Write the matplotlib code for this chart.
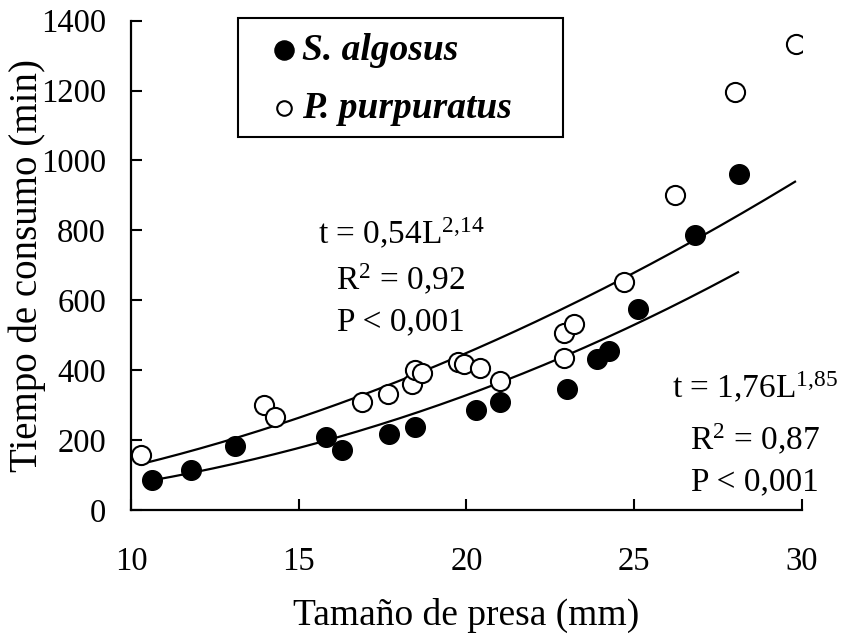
import numpy as np
import matplotlib
matplotlib.use("Agg")
import matplotlib.pyplot as plt
from matplotlib.patches import Rectangle

# S. algosus (filled)
alg_x = [10.62, 11.79, 13.10, 15.81, 16.30, 17.69, 18.48, 20.30, 21.00,
         23.00, 23.90, 24.25, 25.11, 26.82, 28.13]
alg_y = [87, 114, 183, 208, 173, 218, 237, 287, 309,
         347, 432, 455, 576, 787, 962]

# P. purpuratus (open)
pur_x = [10.30, 13.97, 14.29, 16.90, 17.67, 18.39, 18.46, 18.69, 19.74,
         19.94, 20.40, 21.01, 22.91, 22.91, 23.20, 24.70, 26.21, 28.02, 29.83]
pur_y = [156, 301, 267, 308, 332, 360, 400, 393, 424,
         417, 407, 368, 434, 507, 531, 652, 900, 1197, 1333]

# fitted power curves t = a * L^b  (a, b, xmin, xmax)
alg_fit = (0.54, 2.14, 10.6, 28.1)
pur_fit = (1.76, 1.85, 10.3, 29.8)

plt.rcParams['font.family'] = ['Liberation Serif', 'DejaVu Serif']
plt.rcParams['mathtext.fontset'] = 'custom'
plt.rcParams['mathtext.rm'] = 'Liberation Serif'
plt.rcParams['mathtext.it'] = 'Liberation Serif:italic'

fig = plt.figure(figsize=(8.41, 6.4), dpi=100)
ax = fig.add_axes([0.1558, 0.2031, 0.7975, 0.7646])

for a, b, x0, x1 in (alg_fit, pur_fit):
    xs = np.linspace(x0, x1, 200)
    ax.plot(xs, a * xs ** b, color='black', lw=1.6, zorder=2)

ax.scatter(alg_x, alg_y, s=200, c='black', edgecolors='black', zorder=3,
           label='S. algosus')
ax.scatter(pur_x, pur_y, s=190, facecolors='white', edgecolors='black',
           linewidths=1.5, zorder=4, label='P. purpuratus')

ax.set_xlim(10, 30)
ax.set_ylim(0, 1400)
ax.set_xticks([10, 15, 20, 25, 30])
ax.set_yticks(range(0, 1401, 200))
ax.spines['top'].set_visible(False)
ax.spines['right'].set_visible(False)
for s in ('left', 'bottom'):
    ax.spines[s].set_linewidth(1.6)
ax.tick_params(direction='in', length=8, width=1.5, labelsize=23.5)
ax.tick_params(axis='y', pad=18)
ax.tick_params(axis='x', pad=26)

ax.set_xlabel('Tamaño de presa (mm)', fontsize=27, labelpad=15)
ax.set_ylabel('Tiempo de consumo (min)', fontsize=28)
ax.yaxis.set_label_coords(27 / 841, 1 - 265 / 640, transform=fig.transFigure)
ax.yaxis.label.set_va('center')

txt_kw = dict(fontsize=24, ha='center', va='center')
pix = lambda x, y: (x / 841, 1 - y / 640)
fig.text(*pix(401, 234), r'$\mathrm{t}$ = 0,54L$^{\mathrm{2{,}14}}$', **txt_kw)
fig.text(*pix(401, 280), r'R$^{\mathrm{2}}$ = 0,92', **txt_kw)
fig.text(*pix(401, 322), 'P < 0,001', **txt_kw)
fig.text(*pix(755, 388), r'$\mathrm{t}$ = 1,76L$^{\mathrm{1{,}85}}$', **txt_kw)
fig.text(*pix(755, 440), r'R$^{\mathrm{2}}$ = 0,87', **txt_kw)
fig.text(*pix(755, 482), 'P < 0,001', **txt_kw)

leg = ax.legend(loc='upper left', bbox_to_anchor=(265 / 841, 1 - 33 / 640),
                bbox_transform=fig.transFigure, frameon=False,
                prop={'style': 'italic', 'weight': 'bold', 'size': 27},
                handletextpad=0.0, handlelength=1.0, borderpad=0,
                labelspacing=0.6, borderaxespad=0)
leg.legend_handles[0].set_sizes([190])
leg.legend_handles[1].set_sizes([110])
fig.patches.append(Rectangle(pix(238, 137), 325 / 841, 119 / 640,
                             transform=fig.transFigure, fill=False,
                             edgecolor='black', lw=1.5))

fig.savefig('out.png', dpi=100)
